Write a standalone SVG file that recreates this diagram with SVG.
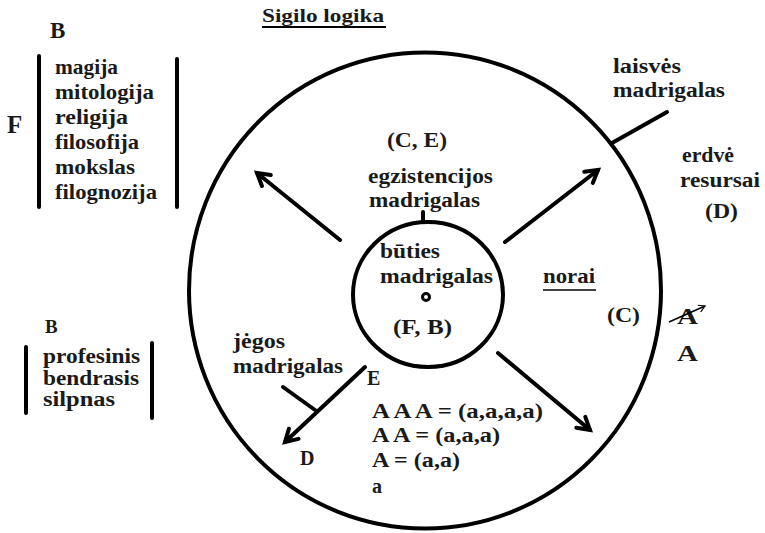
<svg xmlns="http://www.w3.org/2000/svg" width="765" height="533" viewBox="0 0 765 533">
<style>
text{font-family:"Liberation Serif","Times New Roman",serif;font-weight:bold;fill:#1a1a1a}
.t20{font-size:20px}
.t22{font-size:22px}
.ln{stroke:#000;stroke-width:4;fill:none;stroke-linecap:round}
.bar{stroke:#000;stroke-width:4;stroke-linecap:round}
</style>
<defs>
<marker id="ah" viewBox="0 0 20 20" refX="16" refY="10" markerWidth="20" markerHeight="20" markerUnits="userSpaceOnUse" orient="auto">
<path d="M4,3 L16,10 L4,17" fill="none" stroke="#000" stroke-width="4" stroke-linecap="round" stroke-linejoin="miter"/>
</marker>
<marker id="ahs" viewBox="0 0 10 10" refX="9" refY="5" markerWidth="9" markerHeight="9" markerUnits="userSpaceOnUse" orient="auto">
<path d="M2,1 L9,5 L2,9" fill="none" stroke="#000" stroke-width="1.3"/>
</marker>
</defs>
<rect width="765" height="533" fill="#fff"/>

<g id="title">
<text x="262" y="22" style="font-size:19px" textLength="122" lengthAdjust="spacingAndGlyphs">Sigilo logika</text>
<line x1="262" y1="27" x2="386" y2="27" stroke="#000" stroke-width="2"/>
</g>

<g id="outer-circle">
<ellipse cx="425" cy="290.5" rx="236" ry="238" class="ln"/>
</g>

<g id="inner-circle">
<ellipse cx="428" cy="294.5" rx="75" ry="72.5" class="ln"/>
<circle cx="426" cy="297" r="3.5" fill="none" stroke="#000" stroke-width="3"/>
<text class="t20" x="380" y="258" textLength="60" lengthAdjust="spacingAndGlyphs">būties</text>
<text class="t20" x="380" y="283" textLength="113" lengthAdjust="spacingAndGlyphs">madrigalas</text>
<text class="t20" x="393" y="334" textLength="59" lengthAdjust="spacingAndGlyphs">(F, B)</text>
</g>

<g id="connectors">
<line x1="423" y1="212" x2="423" y2="222" class="ln" stroke-width="3"/>
<line x1="340" y1="240" x2="257" y2="173" class="ln" marker-end="url(#ah)"/>
<line x1="505" y1="242" x2="598" y2="170" class="ln" marker-end="url(#ah)"/>
<line x1="498" y1="353" x2="590" y2="430" class="ln" marker-end="url(#ah)"/>
<line x1="365" y1="367" x2="285" y2="442" class="ln" marker-end="url(#ah)"/>
<line x1="283" y1="387" x2="315" y2="410" class="ln"/>
<line x1="612" y1="143" x2="667" y2="112" class="ln"/>
</g>

<g id="left-list">
<text x="50" y="38" style="font-size:23px">B</text>
<text x="7" y="133" style="font-size:25px">F</text>
<line x1="39" y1="56" x2="39" y2="207" class="bar"/>
<line x1="177" y1="59" x2="177" y2="207" class="bar"/>
<g class="t22">
<text x="55" y="74" textLength="63" lengthAdjust="spacingAndGlyphs">magija</text>
<text x="55" y="99" textLength="99" lengthAdjust="spacingAndGlyphs">mitologija</text>
<text x="55" y="124" textLength="73" lengthAdjust="spacingAndGlyphs">religija</text>
<text x="55" y="149" textLength="84" lengthAdjust="spacingAndGlyphs">filosofija</text>
<text x="55" y="174" textLength="80" lengthAdjust="spacingAndGlyphs">mokslas</text>
<text x="55" y="199" textLength="102" lengthAdjust="spacingAndGlyphs">filognozija</text>
</g>
</g>

<g id="lower-left-list">
<text x="45" y="333" style="font-size:19px">B</text>
<line x1="26" y1="347" x2="26" y2="413" class="bar"/>
<line x1="152" y1="343" x2="152" y2="418" class="bar"/>
<g class="t20">
<text x="43" y="363" textLength="97" lengthAdjust="spacingAndGlyphs">profesinis</text>
<text x="43" y="385" textLength="96" lengthAdjust="spacingAndGlyphs">bendrasis</text>
<text x="43" y="406" textLength="72" lengthAdjust="spacingAndGlyphs">silpnas</text>
</g>
</g>

<g id="existence">
<text class="t20" x="387" y="147" textLength="60" lengthAdjust="spacingAndGlyphs">(C, E)</text>
<text class="t20" x="368" y="183" textLength="125" lengthAdjust="spacingAndGlyphs">egzistencijos</text>
<text class="t20" x="369" y="207" textLength="111" lengthAdjust="spacingAndGlyphs">madrigalas</text>
</g>

<g id="freedom">
<text class="t20" x="613" y="73" textLength="68" lengthAdjust="spacingAndGlyphs">laisvės</text>
<text class="t20" x="613" y="97" textLength="112" lengthAdjust="spacingAndGlyphs">madrigalas</text>
</g>

<g id="space">
<text class="t20" x="682" y="162" textLength="52" lengthAdjust="spacingAndGlyphs">erdvė</text>
<text class="t20" x="680" y="187" textLength="80" lengthAdjust="spacingAndGlyphs">resursai</text>
<text class="t20" x="705" y="218" textLength="33" lengthAdjust="spacingAndGlyphs">(D)</text>
</g>

<g id="desires">
<text class="t20" x="543" y="283" textLength="52" lengthAdjust="spacingAndGlyphs">norai</text>
<line x1="543" y1="290" x2="596" y2="290" stroke="#000" stroke-width="1.5"/>
<text class="t20" x="607" y="322" textLength="33" lengthAdjust="spacingAndGlyphs">(C)</text>
</g>

<g id="a-vector">
<text x="677" y="324" style="font-size:23px;font-weight:bold" textLength="21" lengthAdjust="spacingAndGlyphs">A</text>
<line x1="669" y1="322" x2="705" y2="306" stroke="#000" stroke-width="1.5" marker-end="url(#ahs)"/>
<text x="677" y="361" style="font-size:23px;font-weight:bold" textLength="21" lengthAdjust="spacingAndGlyphs">A</text>
</g>

<g id="force">
<text class="t20" x="233" y="348" textLength="52" lengthAdjust="spacingAndGlyphs">jėgos</text>
<text class="t20" x="233" y="373" textLength="110" lengthAdjust="spacingAndGlyphs">madrigalas</text>
<text class="t20" x="367" y="385">E</text>
<text class="t20" x="300" y="465">D</text>
</g>

<g id="formulas">
<text class="t20" x="372" y="418" textLength="171" lengthAdjust="spacingAndGlyphs">A A A = (a,a,a,a)</text>
<text class="t20" x="372" y="442" textLength="128" lengthAdjust="spacingAndGlyphs">A A = (a,a,a)</text>
<text class="t20" x="372" y="467" textLength="88" lengthAdjust="spacingAndGlyphs">A = (a,a)</text>
<text class="t20" x="372" y="493">a</text>
</g>
</svg>
